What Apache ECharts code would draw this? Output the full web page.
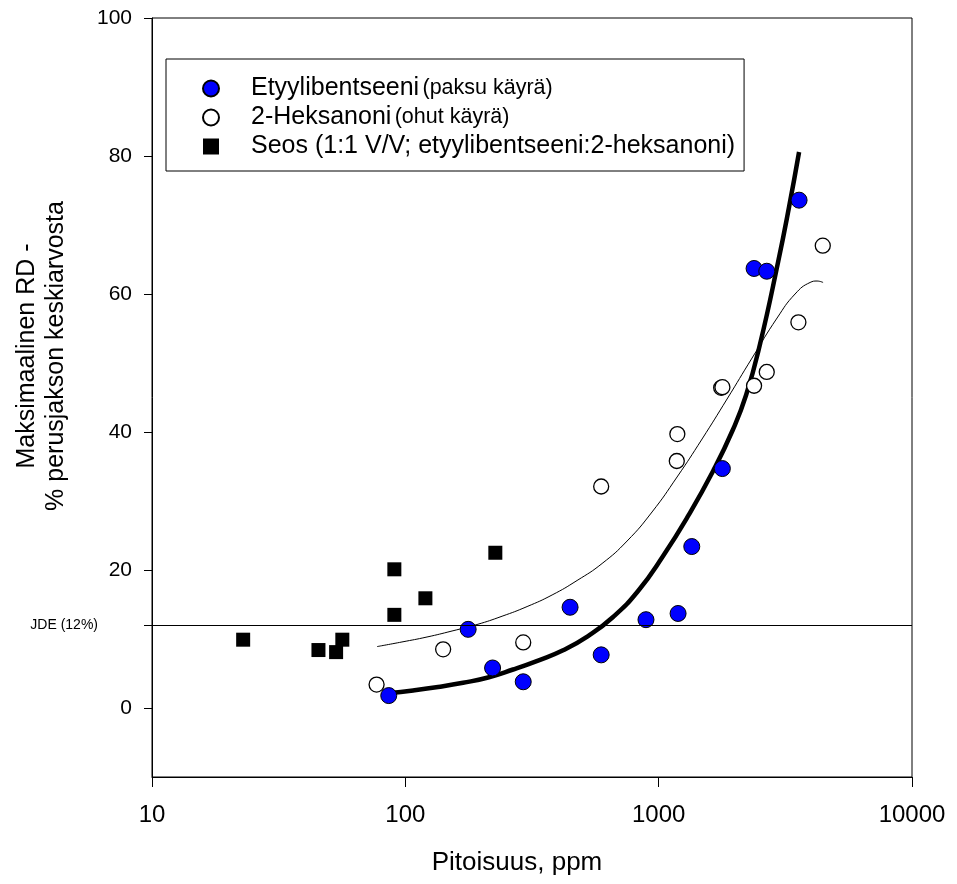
<!DOCTYPE html>
<html>
<head>
<meta charset="utf-8">
<script src="https://cdn.jsdelivr.net/npm/echarts@6/dist/echarts.min.js"></script>
<style>
html,body{margin:0;padding:0;background:#fff;}
#chart{width:957px;height:884px;}
</style>
</head>
<body>
<div id="chart"></div>
<script>
// ---- data ----
const xTicks = [10, 100, 1000, 10000];
const yTicks = [0, 20, 40, 60, 80, 100];
const jdeValue = 12;
const jdeLabel = 'JDE (12%)';

const seriesNames = ['Etyylibentseeni', '2-Heksanoni', 'Seos (1:1 V/V; etyylibentseeni:2-heksanoni)'];
const seriesNotes = ['(paksu käyrä)', '(ohut käyrä)', ''];
const yTitleLines = ['Maksimaalinen RD -', '% perusjakson keskiarvosta'];
const xTitle = 'Pitoisuus, ppm';

const ethylX = [86, 177, 221, 292, 447, 593, 891, 1193, 1351, 1784, 2380, 2671, 3583];
const ethylY = [1.8, 11.4, 5.8, 3.8, 14.6, 7.7, 12.8, 13.7, 23.4, 34.7, 63.7, 63.3, 73.6];

const hexX = [77, 141, 292, 593, 1179, 1185, 1765, 1785, 2380, 2671, 3561, 4444];
const hexY = [3.4, 8.5, 9.5, 32.1, 35.8, 39.7, 46.4, 46.5, 46.7, 48.7, 55.9, 67.0];

const mixX = [22.9, 45.4, 53.3, 56.4, 90.5, 90.5, 120, 226.6];
const mixY = [9.9, 8.4, 8.1, 9.9, 13.5, 20.1, 15.9, 22.5];

// fitted curves as drawn in the reference
const thickX = [85.7, 107.3, 134.6, 169.0, 212.1, 266.2, 334.1, 419.4, 526.4, 660.7, 829.3, 1041, 1307, 1640, 1961, 2214, 2513, 2961, 3271, 3583];
const thickY = [2.13, 2.54, 3.04, 3.65, 4.42, 5.58, 6.88, 8.36, 10.43, 13.19, 16.96, 22.03, 27.83, 34.35, 40.29, 45.36, 52.75, 64.64, 72.61, 80.58];

const thinX = [77.3, 97.0, 121.8, 152.9, 191.9, 240.9, 302.4, 379.6, 476.4, 597.9, 750.5, 941.7, 1182, 1484, 1862, 2337, 2934, 3455, 3960, 4220, 4457];
const thinY = [8.90, 9.57, 10.29, 11.16, 12.10, 13.30, 14.70, 16.38, 18.48, 20.94, 24.20, 28.41, 33.48, 38.99, 44.78, 50.72, 56.52, 60.0, 61.67, 61.88, 61.67];

const zip = (xs, ys) => xs.map((x, i) => [x, ys[i]]);
const FONT = "'Liberation Sans', Arial, sans-serif";

const chart = echarts.init(document.getElementById('chart'), null, {renderer: 'canvas'});

const option = {
  backgroundColor: '#fff',
  animation: false,
  textStyle: {fontFamily: FONT, color: '#000'},
  grid: {
    left: 152, right: 45, top: 18, bottom: 107,
    show: true, borderColor: '#000', borderWidth: 1, backgroundColor: 'transparent'
  },
  legend: {
    data: seriesNames,
    orient: 'vertical',
    left: 166, top: 59,
    borderColor: '#000', borderWidth: 1,
    padding: [17, 9, 12, 36],
    itemGap: 4,
    itemWidth: 16, itemHeight: 16,
    textStyle: {
      color: '#000', fontFamily: FONT, padding: [0, 0, 0, 27],
      rich: {
        a: {fontSize: 25, lineHeight: 26, fontFamily: FONT, color: '#000'},
        b: {fontSize: 21.5, lineHeight: 26, fontFamily: FONT, color: '#000'}
      }
    },
    formatter: function (name) {
      const i = seriesNames.indexOf(name);
      return seriesNotes[i] ? '{a|' + name + '} {b|' + seriesNotes[i] + '}' : '{a|' + name + '}';
    }
  },
  xAxis: {
    type: 'log', logBase: 10, min: xTicks[0], max: xTicks[xTicks.length - 1],
    axisLine: {show: true, onZero: false, lineStyle: {color: '#000', width: 1}},
    axisTick: {show: true, length: 10, lineStyle: {color: '#000'}},
    minorTick: {show: false},
    splitLine: {show: false},
    axisLabel: {fontSize: 24, color: '#000', margin: 26, fontFamily: FONT,
      formatter: v => String(Math.round(v))}
  },
  yAxis: [{
    type: 'value', min: -10, max: 100,
    axisLine: {show: true, onZero: false, lineStyle: {color: '#000', width: 1}},
    axisTick: {show: true, length: 8, customValues: yTicks, lineStyle: {color: '#000'}},
    axisLabel: {show: true, customValues: yTicks, fontSize: 21, color: '#000', margin: 20, fontFamily: FONT},
    splitLine: {show: false}
  }, {
    type: 'value', min: -10, max: 100, position: 'left',
    axisLine: {show: false, onZero: false},
    axisTick: {show: true, length: 8, customValues: [jdeValue], lineStyle: {color: '#000'}},
    axisLabel: {show: true, customValues: [jdeValue], fontSize: 14, color: '#000', margin: 54,
      fontFamily: FONT, formatter: () => jdeLabel},
    splitLine: {show: false}
  }],
  graphic: [
    {type: 'text', x: 27, y: 356, rotation: Math.PI / 2,
      style: {text: yTitleLines[0], fontSize: 25, fontFamily: FONT,
        textAlign: 'center', textVerticalAlign: 'middle', align: 'center', verticalAlign: 'middle', fill: '#000'}},
    {type: 'text', x: 56, y: 356, rotation: Math.PI / 2,
      style: {text: yTitleLines[1], fontSize: 25, fontFamily: FONT,
        textAlign: 'center', textVerticalAlign: 'middle', align: 'center', verticalAlign: 'middle', fill: '#000'}},
    {type: 'text', x: 517, y: 863,
      style: {text: xTitle, fontSize: 26, fontFamily: FONT,
        textAlign: 'center', textVerticalAlign: 'middle', align: 'center', verticalAlign: 'middle', fill: '#000'}}
  ],
  series: [
    {
      name: 'thin', type: 'line', data: zip(thinX, thinY), smooth: 0.5, showSymbol: false,
      lineStyle: {color: '#000', width: 1, join: 'round'}, z: 2, silent: true,
      markLine: {
        silent: true, symbol: 'none', label: {show: false},
        lineStyle: {color: '#000', width: 1, type: 'solid'},
        data: [{yAxis: jdeValue}]
      }
    },
    {
      name: 'thick', type: 'line', data: zip(thickX, thickY), smooth: 0.5, showSymbol: false,
      lineStyle: {color: '#000', width: 4.5, join: 'round'}, z: 2, silent: true
    },
    {
      name: seriesNames[0], type: 'scatter', data: zip(ethylX, ethylY), symbol: 'circle', symbolSize: 16,
      itemStyle: {color: '#0000ff', borderColor: '#000', borderWidth: 1, opacity: 1}, z: 3
    },
    {
      name: seriesNames[1], type: 'scatter', data: zip(hexX, hexY), symbol: 'circle', symbolSize: 15,
      itemStyle: {color: '#fff', borderColor: '#000', borderWidth: 1.3, opacity: 1}, z: 3
    },
    {
      name: seriesNames[2], type: 'scatter', data: zip(mixX, mixY), symbol: 'rect', symbolSize: 14,
      itemStyle: {color: '#000', borderColor: '#000', borderWidth: 0, opacity: 1}, z: 3
    }
  ]
};
chart.setOption(option);
</script>
</body>
</html>
